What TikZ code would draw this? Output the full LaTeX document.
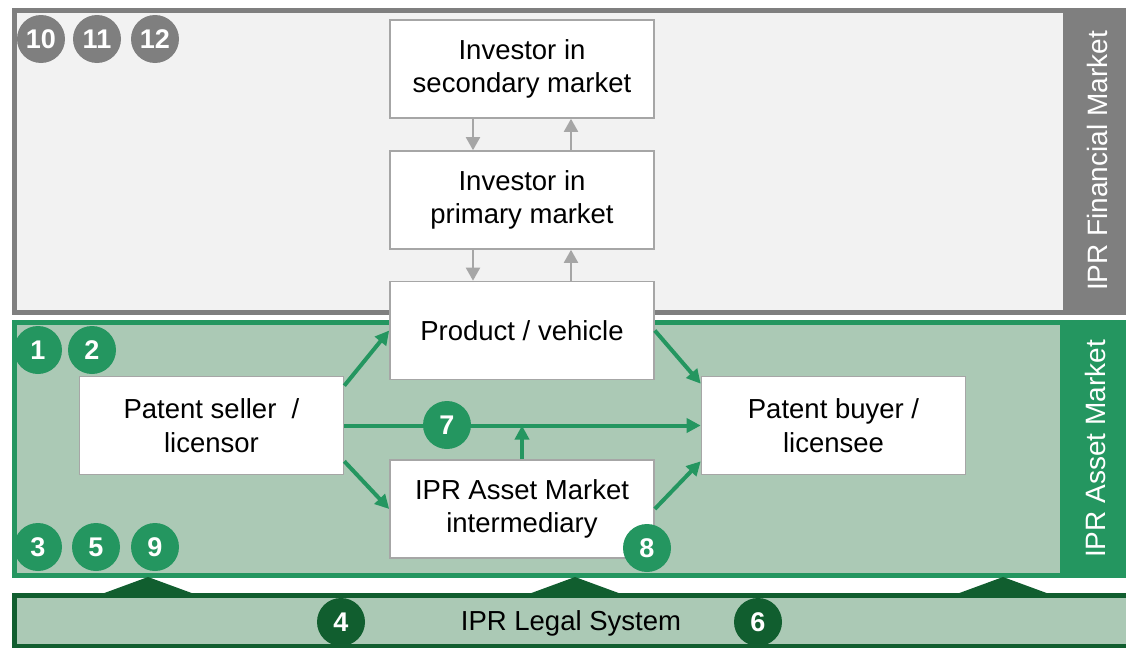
\documentclass[tikz,border=0pt]{standalone}
\usepackage{fontspec}
\setmainfont{Liberation Sans}
\definecolor{fingray}{RGB}{127,127,127}
\definecolor{finlight}{RGB}{242,242,242}
\definecolor{boxgray}{RGB}{166,166,166}
\definecolor{assetgreen}{RGB}{36,150,96}
\definecolor{assetlight}{RGB}{171,201,181}
\definecolor{legalgreen}{RGB}{17,94,47}
\usetikzlibrary{arrows.meta, positioning}

\begin{document}
\begin{tikzpicture}[x=0.5pt, y=-0.5pt,
  actor/.style={draw=boxgray, line width=0.8pt, fill=white, minimum width=132pt, minimum height=49pt, align=center, inner sep=2pt, font=\fontsize{13.75}{16.8}\selectfont},
  num/.style={circle, minimum size=24pt, inner sep=0pt, text=white, font=\fontsize{13.5}{13.5}\selectfont\bfseries},
  flow/.style={-{Triangle[length=7pt, width=7pt]}, line width=2pt, assetgreen},
  invest/.style={-{Triangle[length=6.5pt, width=7pt]}, line width=1pt, boxgray},
  side/.style={rotate=90, text=white, font=\fontsize{14}{14}\selectfont}]
  \useasboundingbox (0,0) rectangle (1126,648);

  % IPR Financial Market
  \draw[fingray, line width=2.5pt, fill=finlight] (14.5,10.5) rectangle (1140,312.5);
  \fill[fingray] (1063,8) rectangle (1126,315);
  \node[side] (finlabel) at (1097,161) {IPR Financial Market};

  % IPR Asset Market
  \draw[assetgreen, line width=2.5pt, fill=assetlight] (14.5,322.5) rectangle (1140,575.5);
  \fill[assetgreen] (1060,320) rectangle (1126,578);
  \node[side] (assetlabel) at (1095,449) {IPR Asset Market};

  % IPR Legal System
  \draw[legalgreen, line width=2.5pt, fill=assetlight] (14.5,595.5) rectangle (1140,646.5);
  \foreach \tx in {148,575,1003}
    \fill[legalgreen] (\tx-49,595) -- (\tx,577) -- (\tx+49,595) -- cycle;
  \node[font=\fontsize{13.75}{13.75}\selectfont] (legal) at (571,623) {IPR Legal System};

  % actors
  \node[actor] (secinv) at (522,69) {Investor in\\secondary market};
  \node[actor] (priminv) at (522,200) {Investor in\\primary market};
  \node[actor] (vehicle) at (522,330.5) {Product / vehicle};
  \node[actor] (interm) at (522,509) {IPR Asset Market\\intermediary};
  \node[actor] (seller) at (211.5,425.5) {Patent seller \ /\\licensor};
  \node[actor] (buyer) at (833.5,425.5) {Patent buyer /\\licensee};

  % investor flows
  \foreach \upper/\lower in {secinv/priminv, priminv/vehicle} {
    \draw[invest] ([xshift=-24.5pt]\upper.south) -- ([xshift=-24.5pt]\lower.north);
    \draw[invest] ([xshift=24.5pt]\lower.north) -- ([xshift=24.5pt]\upper.south);
  }

  % asset flows
  \draw[flow] ([yshift=-5pt]seller.north east) -- (vehicle.west);
  \draw[flow] ([yshift=7pt]seller.south east) -- (interm.west);
  \draw[flow] (seller.east) -- (buyer.west);
  \draw[flow] (vehicle.east) -- ([yshift=-4pt]buyer.north west);
  \draw[flow] (interm.east) -- ([yshift=7pt]buyer.south west);
  \draw[flow] (interm.north) -- (interm.north |- seller.east);

  % numbers
  \foreach \n/\px in {10/41, 11/97, 12/155}
    \node[num, fill=fingray] (n\n) at (\px,39) {\n};
  \foreach \n/\px/\py in {1/38/350, 2/92/350, 3/38/547, 5/96/547, 9/155/547, 7/447/425, 8/647/548}
    \node[num, fill=assetgreen] (n\n) at (\px,\py) {\n};
  \foreach \n/\px in {4/341, 6/758}
    \node[num, fill=legalgreen] (n\n) at (\px,622) {\n};
\end{tikzpicture}
\end{document}
